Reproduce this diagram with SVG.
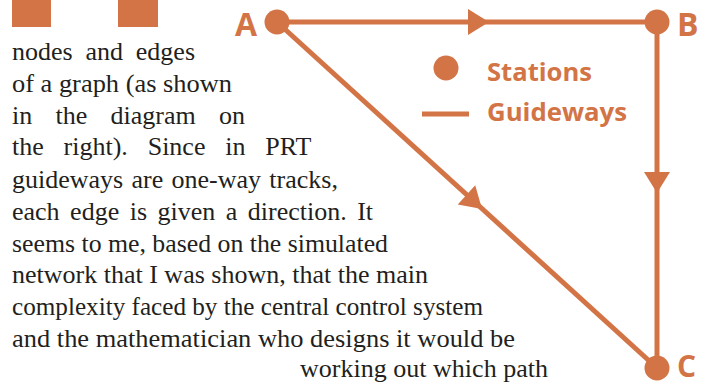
<svg xmlns="http://www.w3.org/2000/svg" xmlns:xlink="http://www.w3.org/1999/xlink" width="710" height="385" viewBox="0 0 710 385">
<style>
.o{fill:#d37446}
.ln{stroke:#d37446;stroke-width:5;fill:none}
.body{font-family:"Liberation Serif","Times New Roman",serif;font-size:26px;fill:#231f20}
.lbl{font-family:"Open Sans","Liberation Sans",Arial,sans-serif;font-weight:bold;fill:#d37446}
</style>
<defs>
<path id="ah" d="M0,0 L-21,-13 L-21,13 Z"/>
</defs>
<rect width="710" height="385" fill="#ffffff"/>
<g id="deco">
<rect class="o" x="12" y="0" width="39" height="27"/>
<rect class="o" x="118" y="0" width="40" height="27"/>
</g>
<g id="text" class="body">
<text y="60"><tspan x="12">nodes</tspan><tspan x="85.5">and</tspan><tspan x="135.8">edges</tspan></text>
<text x="12" y="92" textLength="220" lengthAdjust="spacingAndGlyphs">of a graph (as shown</text>
<text y="124"><tspan x="12">in</tspan><tspan x="55.5">the</tspan><tspan x="110.6">diagram</tspan><tspan x="219">on</tspan></text>
<text y="155"><tspan x="12">the</tspan><tspan x="63.6">right).</tspan><tspan x="147.7">Since</tspan><tspan x="225.3">in</tspan><tspan x="265.3">PRT</tspan></text>
<text y="188"><tspan x="12">guideways</tspan><tspan x="131.5">are</tspan><tspan x="171.5">one-way</tspan><tspan x="269.3">tracks,</tspan></text>
<text y="220"><tspan x="12">each</tspan><tspan x="70.1">edge</tspan><tspan x="129.7">is</tspan><tspan x="157.5">given</tspan><tspan x="225.8">a</tspan><tspan x="247.8">direction.</tspan><tspan x="357.2">It</tspan></text>
<text x="12" y="252" textLength="376" lengthAdjust="spacingAndGlyphs">seems to me, based on the simulated</text>
<text x="12" y="283" textLength="416" lengthAdjust="spacingAndGlyphs">network that I was shown, that the main</text>
<text x="12" y="315" textLength="471" lengthAdjust="spacingAndGlyphs">complexity faced by the central control system</text>
<text x="12" y="347" textLength="503" lengthAdjust="spacingAndGlyphs">and the mathematician who designs it would be</text>
<text x="300" y="377" textLength="248" lengthAdjust="spacingAndGlyphs">working out which path</text>
</g>
<g id="connectors">
<line class="ln" x1="277" y1="22" x2="657" y2="22"/>
<line class="ln" x1="657" y1="22" x2="657" y2="368"/>
<line class="ln" x1="277" y1="22" x2="657" y2="368"/>
<use xlink:href="#ah" class="o" transform="translate(489,22)"/>
<use xlink:href="#ah" class="o" transform="translate(657,193) rotate(90)"/>
<use xlink:href="#ah" class="o" transform="translate(482,209) rotate(42.3)"/>
</g>
<g id="node-A">
<circle class="o" cx="277" cy="22" r="12.5"/>
<text class="lbl" x="235" y="36" font-size="32">A</text>
</g>
<g id="node-B">
<circle class="o" cx="657" cy="22" r="12.5"/>
<text class="lbl" x="677" y="36" font-size="32">B</text>
</g>
<g id="node-C">
<circle class="o" cx="657" cy="368" r="12.5"/>
<text class="lbl" x="677" y="377" font-size="30">C</text>
</g>
<g id="legend">
<circle class="o" cx="446" cy="68" r="12.5"/>
<text class="lbl" x="487" y="81" font-size="25" textLength="105" lengthAdjust="spacingAndGlyphs">Stations</text>
<line class="ln" x1="422" y1="114" x2="469" y2="114"/>
<text class="lbl" x="487" y="121" font-size="25" textLength="140" lengthAdjust="spacingAndGlyphs">Guideways</text>
</g>
</svg>
